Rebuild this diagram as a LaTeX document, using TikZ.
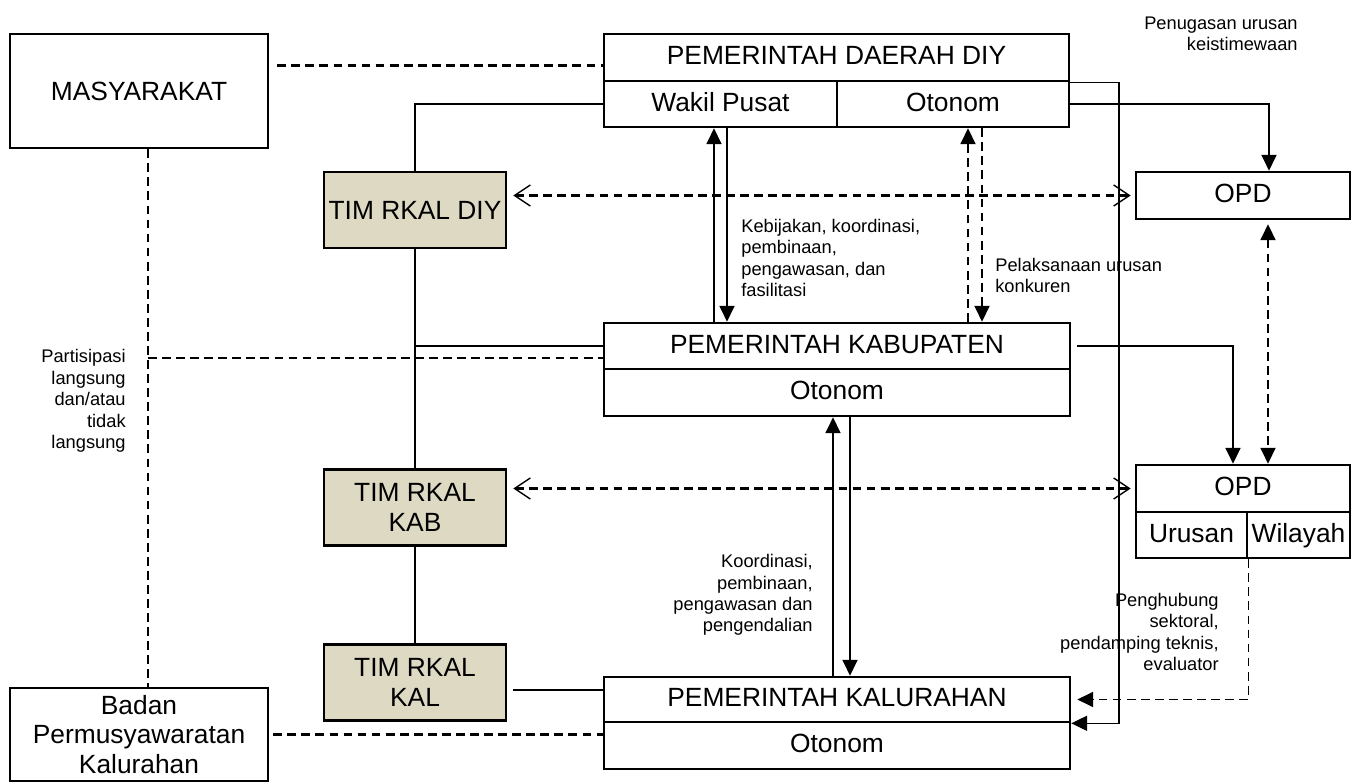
\documentclass[tikz,border=0pt]{standalone}
\usepackage{fontspec}
\setmainfont{Liberation Sans}
\usetikzlibrary{arrows.meta}
\definecolor{timfill}{RGB}{221,217,195}

\begin{document}
\begin{tikzpicture}[
    x=0.02cm, y=-0.02cm,
    box/.style={draw, line width=1.5pt, fill=white, inner sep=0pt, align=center, font=\fontsize{15}{17}\selectfont},
    row/.style={box, text height=11pt, text depth=3pt},
    timbox/.style={box, fill=timfill, minimum width=3.64cm, minimum height=1.52cm},
    note/.style={inner sep=0pt, font=\fontsize{10.4}{12.2}\selectfont},
    link/.style={line width=1.1pt},
    dashline/.style={line width=1.2pt, dash pattern=on 5pt off 3pt},
    arr/.style={link, -{Triangle[width=8.5pt,length=9pt]}},
    dasharr/.style={dashline, -{Triangle[width=8.5pt,length=9pt]}},
    dashboth/.style={dashline, {Triangle[width=8.5pt,length=9pt]}-{Triangle[width=8.5pt,length=9pt]}},
    openarr/.style={dashline, {Straight Barb[length=9pt,width=12pt,line width=0.8pt]}-{Straight Barb[length=9pt,width=12pt,line width=0.8pt]}}
]
    \useasboundingbox (0,0) rectangle (1356,783);

    % boxes
    \node[box, minimum width=5.16cm, minimum height=2.28cm] (masy) at (139,91) {MASYARAKAT};
    \node[row, minimum width=9.3cm, minimum height=0.94cm] (diy) at (836.5,57.5) {PEMERINTAH DAERAH DIY};
    \node[row, minimum width=4.66cm, minimum height=0.92cm] (diyw) at (720.5,104) {Wakil Pusat};
    \node[row, minimum width=4.64cm, minimum height=0.92cm] (diyo) at (953,104) {Otonom};
    \node[timbox] (timdiy) at (415,210) {TIM RKAL DIY};
    \node[row, minimum width=4.28cm, minimum height=0.94cm] (opda) at (1243,195.5) {OPD};

    \node[row, minimum width=9.32cm, minimum height=0.92cm] (kab) at (837,346) {PEMERINTAH KABUPATEN};
    \node[row, minimum width=9.32cm, minimum height=0.94cm] (kabo) at (837,392.5) {Otonom};
    \node[timbox] (timkab) at (415,507.5) {TIM RKAL\\KAB};
    \node[row, minimum width=4.28cm, minimum height=0.94cm] (opdb) at (1243,488.5) {OPD};
    \node[row, minimum width=2.22cm, minimum height=0.92cm] (urusan) at (1191.5,535) {Urusan};
    \node[row, minimum width=2.06cm, minimum height=0.92cm] (wilayah) at (1298.5,535) {Wilayah};

    \node[timbox] (timkal) at (415,682.5) {TIM RKAL\\KAL};
    \node[row, minimum width=9.32cm, minimum height=0.9cm] (kal) at (837,699.5) {PEMERINTAH KALURAHAN};
    \node[row, minimum width=9.32cm, minimum height=0.94cm] (kalo) at (837,745.5) {Otonom};
    \node[box, minimum width=5.16cm, minimum height=1.86cm] (bpk) at (139,734.5) {Badan\\Permusyawaratan\\Kalurahan};

    % labels
    \node[note, align=right, anchor=east] (penugasan) at (1298,34) {Penugasan urusan\\keistimewaan};
    \node[note, align=left, anchor=west] (kebijakan) at (741,258) {Kebijakan, koordinasi,\\pembinaan,\\pengawasan, dan\\fasilitasi};
    \node[note, align=left, anchor=west] (pelaksanaan) at (995,275.5) {Pelaksanaan urusan\\konkuren};
    \node[note, align=right, anchor=east] (partisipasi) at (126,401) {Partisipasi\\langsung\\dan/atau\\tidak\\langsung};
    \node[note, align=right, anchor=east] (koordinasi) at (813,595) {Koordinasi,\\pembinaan,\\pengawasan dan\\pengendalian};
    \node[note, align=right, anchor=east] (penghubung) at (1219,632) {Penghubung\\sektoral,\\pendamping teknis,\\evaluator};

    % masyarakat
    \coordinate (m1) at ([yshift=-0.16cm]diy.west);
    \coordinate (mv) at ([xshift=0.18cm]masy.south);
    \coordinate (p1) at ([yshift=-0.24cm]kab.west);
    \draw[dashline] ([xshift=0.16cm]masy.east |- m1) -- (m1);
    \draw[dashline] (mv) -- (mv |- bpk.north);
    \draw[dashline] (mv |- p1) -- (p1);
    \draw[dashline] ([xshift=0.08cm]bpk.east) -- (bpk.east -| kalo.west);

    % tim rkal
    \coordinate (k1) at ([xshift=0.12cm,yshift=-0.15cm]timkal.east);
    \draw[link] (timdiy.north) |- (diyw.west);
    \draw[link] (timdiy) -- (timkab);
    \draw[link] (timdiy.south |- kab.west) -- (kab.west);
    \draw[link] (timkab) -- (timkal);
    \draw[link] (k1) -- (k1 -| kal.west);
    \draw[openarr, shorten <=0.12cm, shorten >=0.08cm] (timdiy.east |- opda.west) -- (opda.west);
    \draw[openarr, shorten <=0.12cm, shorten >=0.08cm] (timkab.east |- opdb.west) -- (opdb.west);

    % antar pemerintah
    \draw[arr] ([xshift=-0.13cm]diyw.south |- kab.north) -- ([xshift=-0.13cm]diyw.south);
    \draw[arr] ([xshift=0.13cm]diyw.south) -- ([xshift=0.13cm]diyw.south |- kab.north);
    \draw[dasharr] ([xshift=0.3cm]diyo.south |- kab.north) -- ([xshift=0.3cm]diyo.south);
    \draw[dasharr] ([xshift=0.58cm]diyo.south) -- ([xshift=0.58cm]diyo.south |- kab.north);
    \draw[arr] ([xshift=-0.08cm]kabo.south |- kal.north) -- ([xshift=-0.08cm]kabo.south);
    \draw[arr] ([xshift=0.26cm]kabo.south) -- ([xshift=0.26cm]kabo.south |- kal.north);

    % opd
    \draw[arr] (diyo.east) -| ([xshift=0.52cm]opda.north);
    \draw[arr, line width=0.9pt] (diy.south east) -- ++(49,0) |- (kal.south east);
    \draw[arr] ([xshift=0.12cm]kab.east) -| ([xshift=-0.2cm]opdb.north);
    \draw[dashboth, shorten <=0.08cm] ([xshift=0.5cm]opda.south) -- ([xshift=0.5cm]opdb.north);
    \draw[dasharr, line width=0.9pt] (urusan.south east) |- ([xshift=0.12cm]kal.east);
\end{tikzpicture}
\end{document}
